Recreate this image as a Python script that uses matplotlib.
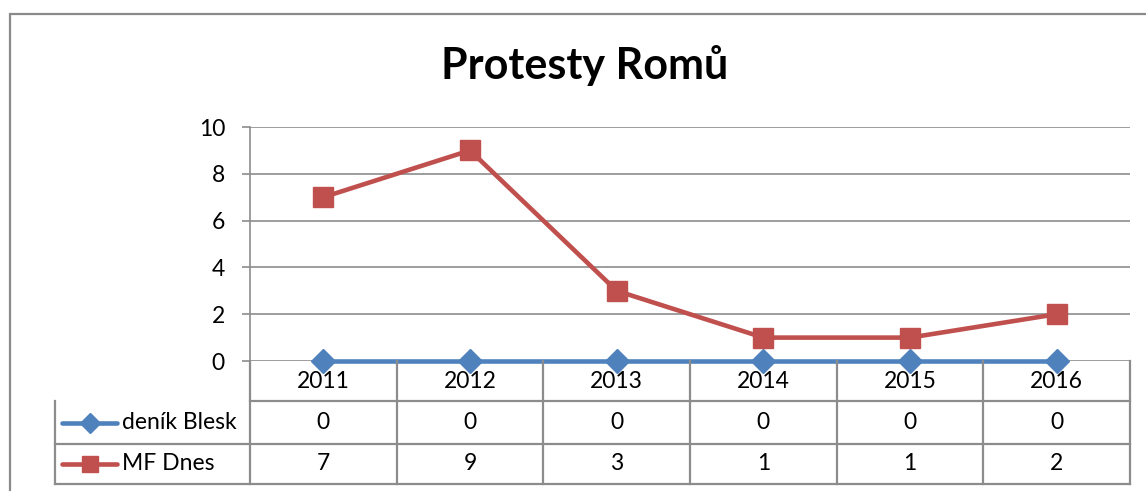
import matplotlib
matplotlib.use("Agg")
import matplotlib.pyplot as plt
from matplotlib.lines import Line2D
from matplotlib.patches import Rectangle

years = ["2011", "2012", "2013", "2014", "2015", "2016"]
blesk = [0, 0, 0, 0, 0, 0]
mfdnes = [7, 9, 3, 1, 1, 2]
series_names = ["deník Blesk", "MF Dnes"]
title = "Protesty Romů"

BLUE = "#4F81BD"
RED = "#C0504D"
GRID = "#8C8C8C"
FS = 16.5

plt.rcParams["font.family"] = ["Lato", "DejaVu Sans"]

W, H = 1146, 491
fig = plt.figure(figsize=(W / 100, H / 100), dpi=100)


def px(x0, y0, x1, y1):
    # pixel box (top-left origin) -> figure fraction rect
    return [x0 / W, 1 - y1 / H, (x1 - x0) / W, (y1 - y0) / H]


# outer chart frame (only top & left visible in the crop)
fig.patches.append(Rectangle((10 / W, -0.1), 1.2, 1 - 14 / H + 0.1,
                             transform=fig.transFigure, fill=False,
                             edgecolor="#8A8A8A", lw=1.6))

fig.text(585 / W, 1 - 66 / H, title, ha="center", va="center",
         fontsize=31, fontweight="bold")

# main plot area
ax = fig.add_axes(px(250, 127, 1130, 361))
x = range(len(years))
ax.plot(x, blesk, color=BLUE, lw=3.3, marker="D", ms=12, zorder=3, clip_on=False)
ax.plot(x, mfdnes, color=RED, lw=3.3, marker="s", ms=14, zorder=4, clip_on=False)
ax.set_xlim(-0.5, len(years) - 0.5)
ax.set_ylim(0, 10)
ax.set_yticks(range(0, 11, 2))
ax.grid(axis="y", color=GRID, lw=1.2)
ax.set_axisbelow(True)
for s in ["top", "right", "bottom"]:
    ax.spines[s].set_visible(False)
ax.spines["left"].set_color(GRID)
ax.spines["left"].set_linewidth(1.2)
ax.tick_params(axis="y", length=6, width=1.2, color=GRID, labelsize=FS, pad=12)
ax.set_xticks([])

# data table below
tab = fig.add_axes(px(55, 361, 1130, 486))
colw = 146.6
left = -(250 - 55) / colw
tab.set_xlim(left - 0.5, len(years) - 0.5)
row_edges = [0, 40, 83, 123]
tab.set_ylim(125, 0)
tab.axis("off")
lk = dict(color=GRID, lw=1.6, clip_on=False)
n = len(years)
# horizontal lines
tab.plot([-0.5, n - 0.5], [row_edges[1]] * 2, **lk)
for r in row_edges[2:]:
    tab.plot([left - 0.5, n - 0.5], [r, r], **lk)
tab.plot([left - 0.5, left - 0.5], [row_edges[1], row_edges[3]], **lk)
for i in range(n + 1):
    tab.plot([i - 0.5, i - 0.5], [row_edges[0], row_edges[3]], **lk)

for i, yr in enumerate(years):
    tab.text(i, (row_edges[0] + row_edges[1]) / 2, yr, ha="center", va="center", fontsize=FS)
rows = [(blesk, BLUE, "D", 10), (mfdnes, RED, "s", 12)]
for k, (vals, col, mk, ms) in enumerate(rows):
    yc = (row_edges[k + 1] + row_edges[k + 2]) / 2
    for i, v in enumerate(vals):
        tab.text(i, yc, str(v), ha="center", va="center", fontsize=FS)
    kx0 = left - 0.5 + 7 / colw
    kx1 = left - 0.5 + 62 / colw
    tab.add_line(Line2D([kx0, kx1], [yc, yc], color=col, lw=3.3, solid_capstyle="round"))
    tab.add_line(Line2D([(kx0 + kx1) / 2], [yc], color=col, marker=mk, ms=ms))
    tab.text(left - 0.5 + 67 / colw, yc, series_names[k], ha="left", va="center", fontsize=FS)

fig.savefig("out.png", dpi=100)
